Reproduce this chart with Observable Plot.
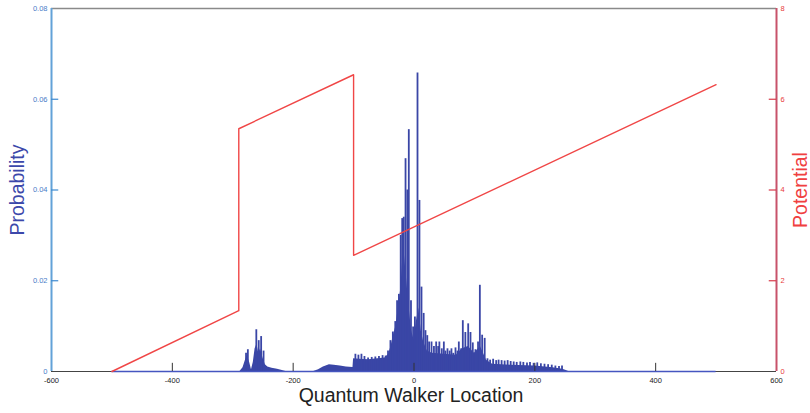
<!DOCTYPE html>
<html><head><meta charset="utf-8">
<script src="https://cdn.jsdelivr.net/npm/d3@7"></script>
<script src="https://cdn.jsdelivr.net/npm/@observablehq/plot@0.6"></script>
<style>body{margin:0;background:#fff;font-family:Arial,"Liberation Sans",sans-serif}</style>
</head><body><div id="chart"></div>
<script>
// ---- data ----
const xTicks = [-600, -400, -200, 0, 200, 400, 600];
const probTicks = [0, 0.02, 0.04, 0.06, 0.08];
const potTicks = [0, 2, 4, 6, 8];

// potential profile (breakpoints)
const potX = [-500, -290, -290, -100, -100, 500];
const potV = [0, 1.34, 5.35, 6.54, 2.56, 6.32];

// filled envelope of the probability distribution
const baseX = [-500, -288, -283, -279, -276, -272, -269, -266, -263, -260, -257, -254, -250, -246, -242, -235, -226, -218, -212,
  -166, -158, -150, -140, -132, -122, -112, -101, -100, -90, -75, -60, -48, -42, -38, -34, -30, -26, -22, -19, -16, -12, -8, -4, 0,
  4, 8, 12, 16, 22, 30, 50, 70, 80, 90, 100, 110, 120, 130, 160, 200, 230, 246, 252, 256, 500];
const baseP = [0, 0, 0.0008, 0.0025, 0.0035, 0.002, 0.0004, 0.002, 0.005, 0.006, 0.004, 0.005, 0.003, 0.0015, 0.001, 0.0007, 0.0005, 0.0002, 0,
  0, 0.0004, 0.001, 0.0015, 0.0014, 0.0012, 0.001, 0.0009, 0.0028, 0.0027, 0.0026, 0.0028, 0.003, 0.0038, 0.0055, 0.008, 0.01, 0.014, 0.018, 0.024, 0.026, 0.02, 0.014, 0.009, 0.007,
  0.011, 0.014, 0.009, 0.0065, 0.0045, 0.004, 0.0038, 0.0036, 0.005, 0.0055, 0.004, 0.0055, 0.0025, 0.0016, 0.0014, 0.0012, 0.0008, 0.0005, 0.0002, 0, 0];

// individual spikes
const spikeX = [-278, -275, -261, -257, -253, -249,
  -97, -92, -87, -82, -76, -70, -64, -58, -52, -47, -43, -39, -35, -31, -28, -25, -22, -19.5, -17, -14, -11, -8.6, -5, -1.5, 1.5, 5.8, 9, 12.4, 16, 19, 22, 25, 29, 33, 36.7, 40, 42, 46, 49.4, 52, 55.4, 59, 62, 65, 68.7, 72, 74.2, 78, 80.8, 85, 89.7, 93.5, 97.3, 101.7, 106, 109, 112.8, 117, 121.6,
  126, 131, 136, 140, 145, 150, 155, 160, 165, 170, 176, 181, 187, 192, 198, 204, 210, 216, 222, 228, 234, 240, 245];
const spikeP = [0.004, 0.0048, 0.0092, 0.0068, 0.0077, 0.0045,
  0.0038, 0.0036, 0.0038, 0.0033, 0.003, 0.0031, 0.0032, 0.0033, 0.0035, 0.0034, 0.0045, 0.0068, 0.0087, 0.011, 0.0156, 0.017, 0.03, 0.0337, 0.034, 0.0469, 0.04, 0.0533, 0.0156, 0.0098, 0.012, 0.0658, 0.0377, 0.0186, 0.0128, 0.009, 0.0079, 0.0065, 0.0065, 0.0055, 0.0065, 0.0055, 0.0065, 0.005, 0.0065, 0.0045, 0.005, 0.0045, 0.005, 0.004, 0.0052, 0.0045, 0.0065, 0.005, 0.0112, 0.0086, 0.0105, 0.0086, 0.0063, 0.0048, 0.0065, 0.019, 0.008, 0.0073, 0.0028,
  0.0025, 0.0027, 0.0024, 0.0025, 0.0024, 0.0023, 0.0024, 0.0022, 0.0021, 0.002, 0.0021, 0.002, 0.0019, 0.002, 0.0018, 0.0019, 0.0017, 0.0016, 0.0015, 0.0014, 0.0012, 0.0011, 0.0012];

const walkRange = [-500, 500];

// ---- build tables ----
const pot = potX.map((x, i) => ({x, v: potV[i]}));
const base = baseX.map((x, i) => ({x, p: baseP[i]}));
const spikes = spikeX.map((x, i) => ({x, p: spikeP[i]}));
const potToProb = 0.08 / 8; // right axis 0..8 maps onto left axis 0..0.08

const blue = "#3a46a6";
const red = "#f04646";
const leftAxisColor = "#62a2d8";
const rightAxisColor = "#c8526a";
const tickLenY = 0.0018, tickLenX = 12;

const chart = Plot.plot({
  width: 810, height: 413,
  marginLeft: 51, marginRight: 34, marginTop: 8, marginBottom: 42,
  x: {domain: [-600, 600], axis: null},
  y: {domain: [0, 0.08], axis: null},
  style: {fontFamily: "Arial, 'Liberation Sans', sans-serif", background: "#fff"},
  marks: [
    Plot.areaY(base, {x: "x", y: "p", fill: blue, curve: "linear"}),
    Plot.ruleX(spikes, {x: "x", y: "p", stroke: blue, strokeWidth: 1.8}),
    // box
    Plot.ruleY([0.08], {stroke: "#8a8a8a", strokeWidth: 1.5}),
    Plot.ruleY([0], {stroke: "#444", strokeWidth: 1.2}),
    Plot.ruleY([0], {x1: walkRange[0], x2: walkRange[1], stroke: "#4656c0", strokeWidth: 1.5}),
    Plot.line(pot, {x: "x", y: d => d.v * potToProb, stroke: red, strokeWidth: 1.4}),
    Plot.ruleX([-600], {stroke: leftAxisColor, strokeWidth: 2}),
    Plot.ruleX([600], {stroke: rightAxisColor, strokeWidth: 2}),
    // inward ticks
    Plot.ruleX(xTicks.slice(1, -1), {x: d => d, y1: 0, y2: tickLenY, stroke: "#333", strokeWidth: 1}),
    Plot.ruleY(probTicks.slice(1, -1), {y: d => d, x1: -600, x2: -600 + tickLenX, stroke: "#3d8ad0", strokeWidth: 1.2}),
    Plot.ruleY(potTicks.slice(1, -1), {y: d => d * potToProb, x1: 600 - tickLenX, x2: 600, stroke: "#d83a4a", strokeWidth: 1.2}),
    // tick labels
    Plot.text(xTicks, {x: d => d, y: 0, dy: 9, text: d => String(d), fontSize: 7.5, fill: "#222"}),
    Plot.text(probTicks, {x: -600, y: d => d, dx: -4, textAnchor: "end", text: d => d === 0 ? "0" : d.toFixed(2), fontSize: 7.5, fill: "#4a7cc8"}),
    Plot.text(potTicks, {x: 600, y: d => d * potToProb, dx: 4, textAnchor: "start", text: d => String(d), fontSize: 7.5, fill: "#e83a3a"}),
    // axis titles
    Plot.text(["Probability"], {frameAnchor: "left", textAnchor: "middle", dx: -34, rotate: -90, text: d => d, fontSize: 19.5, fill: "#3c48aa"}),
    Plot.text(["Potential"], {frameAnchor: "right", textAnchor: "middle", dx: 24, rotate: -90, text: d => d, fontSize: 19.5, fill: "#f04040"}),
    Plot.text(["Quantum Walker Location"], {frameAnchor: "bottom", textAnchor: "middle", dx: -3, dy: 30, text: d => d, fontSize: 19.5, fill: "#222"})
  ]
});
document.getElementById("chart").appendChild(chart);
</script>
</body></html>
